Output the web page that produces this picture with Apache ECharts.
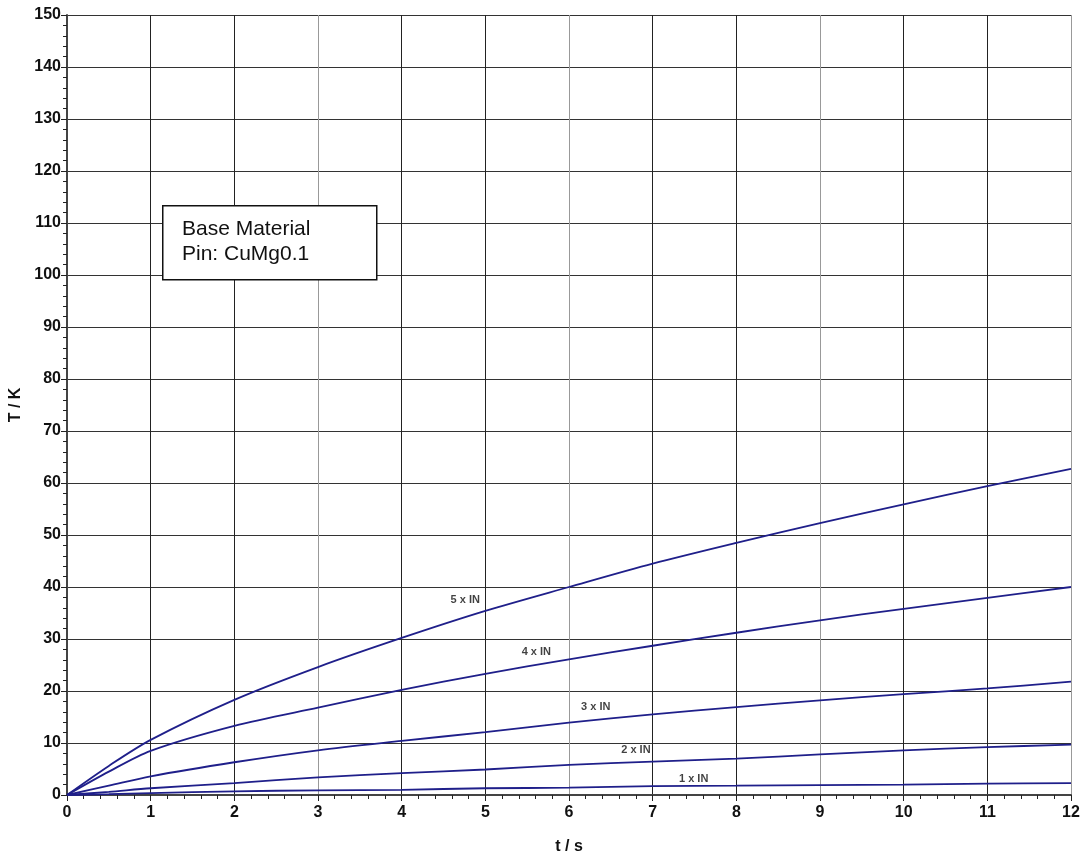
<!DOCTYPE html>
<html>
<head>
<meta charset="utf-8">
<script src="https://cdn.jsdelivr.net/npm/echarts@6/dist/echarts.min.js"></script>
<style>html,body{margin:0;padding:0;background:#fff}#c{width:1086px;height:858px}</style>
</head>
<body>
<div id="c"></div>
<script>
const times = [0, 0.5, 1, 2, 3, 4, 5, 6, 7, 8, 9, 10, 11, 12];
const in5 = [0, 5.6, 10.6, 18.3, 24.6, 30.2, 35.4, 40.0, 44.5, 48.5, 52.3, 55.9, 59.4, 62.7];
const in4 = [0, 4.5, 8.5, 13.3, 16.8, 20.2, 23.3, 26.1, 28.7, 31.2, 33.6, 35.8, 37.9, 40.0];
const in3 = [0, 1.8, 3.6, 6.3, 8.6, 10.4, 12.1, 13.9, 15.5, 16.9, 18.2, 19.4, 20.5, 21.8];
const in2 = [0, 0.6, 1.3, 2.3, 3.4, 4.2, 4.9, 5.8, 6.4, 7.0, 7.8, 8.6, 9.2, 9.7];
const in1 = [0, 0.15, 0.35, 0.7, 0.9, 1.0, 1.3, 1.4, 1.7, 1.8, 1.9, 2.0, 2.2, 2.3];
const seriesNames = ['5 x IN', '4 x IN', '3 x IN', '2 x IN', '1 x IN'];
const labelT = [4.76, 5.61, 6.32, 6.80, 7.49];
const labelK = [37.5, 27.5, 16.9, 8.65, 3.1];
const boxLines = ['Base Material', 'Pin: CuMg0.1'];

const lineColor = '#1f1f8a';
const allSeries = [in5, in4, in3, in2, in1];
const series = allSeries.map((vals, i) => ({
  name: seriesNames[i],
  type: 'line',
  smooth: 0.3,
  showSymbol: false,
  silent: true,
  lineStyle: { color: lineColor, width: 1.8 },
  data: times.map((t, j) => [t, vals[j]])
}));
series.push({
  type: 'scatter',
  symbolSize: 0,
  silent: true,
  data: seriesNames.map((n, i) => ({ name: n, value: [labelT[i], labelK[i]] })),
  label: {
    show: true, position: 'inside', formatter: '{b}',
    fontFamily: 'Liberation Sans', fontWeight: 'bold', fontSize: 11, color: '#111'
  }
});

const xGridColors = ['#999', '#222', '#222'];
const chart = echarts.init(document.getElementById('c'));
chart.setOption({
  animation: false,
  backgroundColor: '#fff',
  grid: { left: 67, right: 15, top: 15, bottom: 63, containLabel: false, outerBoundsMode: 'none' },
  xAxis: {
    type: 'value', min: 0, max: 12, interval: 1,
    name: 't / s', nameLocation: 'middle', nameGap: 44,
    nameTextStyle: { fontFamily: 'Liberation Sans', fontWeight: 'bold', fontSize: 16, color: '#111' },
    axisLine: { show: true, onZero: false, lineStyle: { color: '#444', width: 2 } },
    axisTick: { show: true, length: 6, lineStyle: { color: '#222' } },
    minorTick: { show: true, splitNumber: 5, length: 4, lineStyle: { color: '#222' } },
    axisLabel: { fontFamily: 'Liberation Sans', fontWeight: 'bold', fontSize: 16, color: '#111', margin: 10 },
    splitLine: { show: true, lineStyle: { color: xGridColors, width: 1 } }
  },
  yAxis: {
    type: 'value', min: 0, max: 150, interval: 10,
    name: 'T / K', nameLocation: 'middle', nameGap: 42, nameRotate: 90,
    nameTextStyle: { fontFamily: 'Liberation Sans', fontWeight: 'bold', fontSize: 16, color: '#111' },
    axisLine: { show: true, onZero: false, lineStyle: { color: '#444', width: 2 } },
    axisTick: { show: true, length: 6, lineStyle: { color: '#222' } },
    minorTick: { show: true, splitNumber: 5, length: 4, lineStyle: { color: '#222' } },
    axisLabel: { fontFamily: 'Liberation Sans', fontWeight: 'bold', fontSize: 16, color: '#111', margin: 6 },
    splitLine: { show: true, lineStyle: { color: '#333', width: 1 } }
  },
  graphic: [
    {
      type: 'rect', left: 162, top: 205, z: 100,
      shape: { width: 214, height: 74 },
      style: { fill: '#fff', stroke: '#111', lineWidth: 1.5 }
    },
    {
      type: 'text', left: 182, top: 217, z: 101,
      style: {
        text: boxLines.join('\n'), fill: '#111',
        font: '21px "Liberation Sans"', lineHeight: 25
      }
    }
  ],
  series: series
});
</script>
</body>
</html>
